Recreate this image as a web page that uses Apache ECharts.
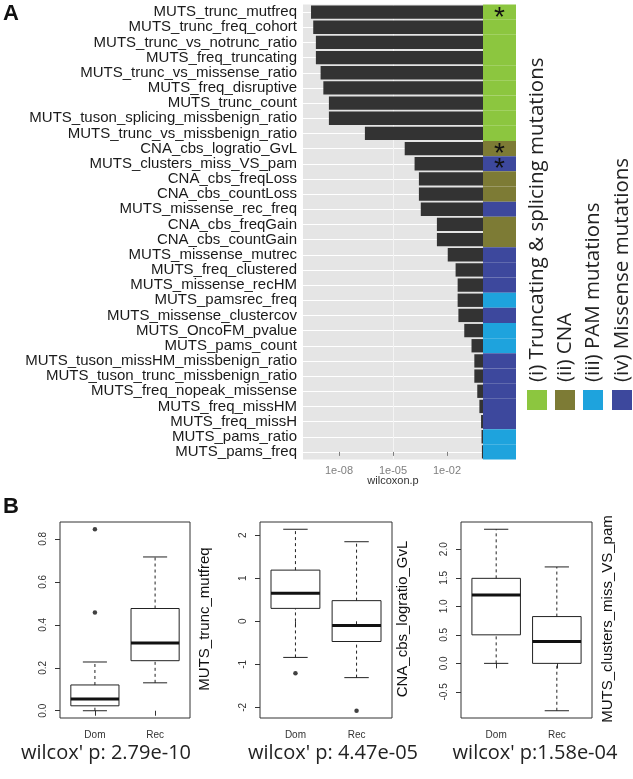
<!DOCTYPE html>
<html lang="en">
<head>
<meta charset="UTF-8" />
<title>wilcoxon feature ranking</title>
<style>
  body { margin: 0; background: #fff; }
  #chart { width: 633px; height: 779px; }
</style>
<script src="https://cdn.jsdelivr.net/npm/echarts@6/dist/echarts.min.js"></script>
</head>
<body>
<div id="chart"></div>
<script>
// ---- panel A data ----
const features = [
  'MUTS_trunc_mutfreq', 'MUTS_trunc_freq_cohort', 'MUTS_trunc_vs_notrunc_ratio', 'MUTS_freq_truncating',
  'MUTS_trunc_vs_missense_ratio', 'MUTS_freq_disruptive', 'MUTS_trunc_count', 'MUTS_tuson_splicing_missbenign_ratio',
  'MUTS_trunc_vs_missbenign_ratio', 'CNA_cbs_logratio_GvL', 'MUTS_clusters_miss_VS_pam', 'CNA_cbs_freqLoss',
  'CNA_cbs_countLoss', 'MUTS_missense_rec_freq', 'CNA_cbs_freqGain', 'CNA_cbs_countGain', 'MUTS_missense_mutrec',
  'MUTS_freq_clustered', 'MUTS_missense_recHM', 'MUTS_pamsrec_freq', 'MUTS_missense_clustercov', 'MUTS_OncoFM_pvalue',
  'MUTS_pams_count', 'MUTS_tuson_missHM_missbenign_ratio', 'MUTS_tuson_trunc_missbenign_ratio',
  'MUTS_freq_nopeak_missense', 'MUTS_freq_missHM', 'MUTS_freq_missH', 'MUTS_pams_ratio', 'MUTS_pams_freq'
];
const pValues = [
  2.79e-10, 3.7e-10, 5.2e-10, 5.2e-10, 9.5e-10, 1.35e-9, 2.75e-9, 2.75e-9, 2.75e-7, 4.47e-5,
  1.58e-4, 2.75e-4, 2.75e-4, 3.5e-4, 2.75e-3, 2.75e-3, 0.011, 0.030, 0.039, 0.039,
  0.043, 0.091, 0.23, 0.33, 0.33, 0.48, 0.63, 0.78, 0.83, 0.87
];
const featureGroup = [
  'i', 'i', 'i', 'i', 'i', 'i', 'i', 'i', 'i', 'ii',
  'iv', 'ii', 'ii', 'iv', 'ii', 'ii', 'iv', 'iv', 'iv', 'iii',
  'iv', 'iii', 'iii', 'iv', 'iv', 'iv', 'iv', 'iv', 'iii', 'iii'
];
const starredFeatures = ['MUTS_trunc_mutfreq', 'CNA_cbs_logratio_GvL', 'MUTS_clusters_miss_VS_pam'];
const groupKeys = ['i', 'ii', 'iii', 'iv'];
const groupNames = ['(i) Truncating & splicing mutations', '(ii) CNA', '(iii) PAM mutations', '(iv) Missense mutations'];
const groupColors = { i: '#8cc63f', ii: '#7d7b35', iii: '#1ea3dd', iv: '#3d489d' };
const pTicks = [-8, -5, -2]; // log10(p)

// ---- panel B data ----
const boxCategories = ['Dom', 'Rec'];
const boxFeatures = ['MUTS_trunc_mutfreq', 'CNA_cbs_logratio_GvL', 'MUTS_clusters_miss_VS_pam'];
// [lower whisker, Q1, median, Q3, upper whisker]
const statsTrunc = [[0.0, 0.023, 0.055, 0.12, 0.227], [0.13, 0.233, 0.315, 0.476, 0.716]];
const statsCna = [[-0.84, 0.30, 0.65, 1.19, 2.14], [-1.31, -0.47, -0.10, 0.48, 1.85]];
const statsClusters = [[0.0, 0.50, 1.20, 1.49, 2.35], [-0.83, 0.0, 0.385, 0.82, 1.69]];
const outliersTrunc = [[1, 0.457], [1, 0.845]];
const outliersCna = [[1, -1.21], [2, -2.08]];
const outliersClusters = [];
const ticksTrunc = [0, 0.2, 0.4, 0.6, 0.8];
const ticksCna = [-2, -1, 0, 1, 2];
const ticksClusters = [-0.5, 0, 0.5, 1, 1.5, 2];
const wilcoxLabels = ["wilcox' p: 2.79e-10", "wilcox' p: 4.47e-05", "wilcox' p:1.58e-04"];

const HELV = '"Liberation Sans", Arial, sans-serif';
const HUMAN = '"Open Sans", "DejaVu Sans", sans-serif';

const chart = echarts.init(document.getElementById('chart'));

const panels = [
  { stats: statsTrunc, outliers: outliersTrunc, ticks: ticksTrunc, digits: 1, left: 60, width: 130, nameX: 205, footX: 106 },
  { stats: statsCna, outliers: outliersCna, ticks: ticksCna, digits: 0, left: 260, width: 132, nameX: 403, footX: 333 },
  { stats: statsClusters, outliers: outliersClusters, ticks: ticksClusters, digits: 1, left: 461, width: 131, nameX: 608, footX: 535 }
];

function boxItem(params, api) {
  const x = api.value(0);
  const half = api.size([0.8, 0])[0] / 2;
  const staple = half / 2;
  const cx = api.coord([x, 0])[0];
  const y = (i) => api.coord([x, api.value(i)])[1];
  const yLo = y(1), yQ1 = y(2), yMed = y(3), yQ3 = y(4), yHi = y(5);
  const solid = { stroke: '#222', lineWidth: 1 };
  const dashed = { stroke: '#222', lineWidth: 1, lineDash: [3, 3] };
  return {
    type: 'group',
    children: [
      { type: 'line', shape: { x1: cx, y1: yLo, x2: cx, y2: yQ1 }, style: dashed },
      { type: 'line', shape: { x1: cx, y1: yQ3, x2: cx, y2: yHi }, style: dashed },
      { type: 'line', shape: { x1: cx - staple, y1: yLo, x2: cx + staple, y2: yLo }, style: solid },
      { type: 'line', shape: { x1: cx - staple, y1: yHi, x2: cx + staple, y2: yHi }, style: solid },
      { type: 'rect', shape: { x: cx - half, y: yQ3, width: half * 2, height: yQ1 - yQ3 }, style: { stroke: '#222', lineWidth: 1, fill: 'none' } },
      { type: 'line', shape: { x1: cx - half, y1: yMed, x2: cx + half, y2: yMed }, style: { stroke: '#111', lineWidth: 3 } }
    ]
  };
}

const grid = [
  { left: 303, top: 4.5, width: 180, height: 455, show: true, backgroundColor: '#e5e5e5', borderWidth: 0 },
  { left: 483, top: 4.5, width: 33, height: 455 }
];
const xAxis = [
  {
    gridIndex: 0, type: 'value', min: -10, max: 0, interval: 0.5,
    axisLine: { show: false },
    axisTick: { customValues: pTicks, length: 4, lineStyle: { color: '#7f7f7f' } },
    axisLabel: {
      customValues: pTicks, margin: 6, fontSize: 11, color: '#7f7f7f', fontFamily: HELV,
      formatter: (v) => '1e-' + String(-v).padStart(2, '0')
    },
    splitLine: {
      show: true,
      lineStyle: { width: 1, color: ['rgba(0,0,0,0)', '#f4f4f4', 'rgba(0,0,0,0)', 'rgba(0,0,0,0)', '#ffffff', 'rgba(0,0,0,0)'] }
    },
    name: 'wilcoxon.p', nameLocation: 'middle', nameGap: 16, nameMoveOverlap: false,
    nameTextStyle: { fontSize: 11, color: '#333', fontFamily: HELV }
  },
  { gridIndex: 1, type: 'value', min: 0, max: 1, show: false }
];
const yAxis = [
  {
    gridIndex: 0, type: 'category', data: features, inverse: true,
    axisLine: { show: false },
    axisTick: { alignWithLabel: true, length: 4, interval: 0, lineStyle: { color: '#555' } },
    axisLabel: { interval: 0, fontSize: 15, color: '#1a1a1a', margin: 6, fontFamily: HELV },
    splitLine: { show: false }
  },
  {
    gridIndex: 0, type: 'value', min: -0.5, max: features.length - 0.5, interval: 0.5,
    axisLine: { show: false }, axisTick: { show: false }, axisLabel: { show: false },
    splitLine: { show: true, lineStyle: { width: 1, color: ['rgba(0,0,0,0)', '#ffffff'] } }
  },
  { gridIndex: 1, type: 'category', data: features, inverse: true, show: false }
];

const series = [
  {
    type: 'bar', name: 'wilcoxon.p', xAxisIndex: 0, yAxisIndex: 0,
    barCategoryGap: '12%',
    itemStyle: { color: '#333333' },
    data: pValues.map((p) => Math.log10(p))
  },
  {
    type: 'bar', name: 'group', xAxisIndex: 1, yAxisIndex: 2,
    barCategoryGap: 0,
    data: features.map((f, i) => ({
      value: 1,
      itemStyle: { color: groupColors[featureGroup[i]] },
      label: {
        show: starredFeatures.includes(f), formatter: '*', position: 'inside',
        fontSize: 28, color: '#111', fontFamily: HELV, offset: [0, 6]
      }
    }))
  }
];

const graphic = [
  { type: 'text', x: 3, y: 3, style: { text: 'A', font: 'bold 22px ' + HELV, fill: '#111' } },
  { type: 'text', x: 3, y: 496, style: { text: 'B', font: 'bold 22px ' + HELV, fill: '#111' } }
];

// legend for panel A (rotated labels, keys below)
const legendX = [537, 565, 593, 622];
groupKeys.forEach((k, i) => {
  graphic.push({ type: 'rect', shape: { x: legendX[i] - 10, y: 390, width: 20, height: 20 }, style: { fill: groupColors[k] } });
  graphic.push({
    type: 'text', x: legendX[i], y: 382, rotation: Math.PI / 2,
    style: { text: groupNames[i], font: '20.5px ' + HUMAN, fill: '#222', textAlign: 'left', textVerticalAlign: 'middle', align: 'left', verticalAlign: 'middle' }
  });
});

panels.forEach((p, k) => {
  const gi = grid.length;
  const vals = p.stats.flat().concat(p.outliers.map((o) => o[1]));
  const lo = Math.min(...vals), hi = Math.max(...vals), pad = (hi - lo) * 0.04;
  grid.push({ left: p.left, top: 522, width: p.width, height: 196, show: true, borderColor: '#333', borderWidth: 1, backgroundColor: 'transparent' });
  xAxis.push({
    gridIndex: gi, type: 'value', min: 0.42, max: 2.58,
    axisLine: { show: false }, splitLine: { show: false },
    axisTick: { customValues: [1, 2], length: 5, lineStyle: { color: '#333' } },
    axisLabel: { customValues: [1, 2], formatter: (v) => boxCategories[v - 1], fontSize: 10, color: '#333', margin: 12, fontFamily: HELV }
  });
  yAxis.push({
    gridIndex: gi, type: 'value', min: lo - pad, max: hi + pad,
    axisLine: { show: false }, splitLine: { show: false },
    axisTick: { customValues: p.ticks, length: 5, lineStyle: { color: '#333' } },
    axisLabel: { customValues: p.ticks, rotate: 90, formatter: (v) => v.toFixed(p.digits), fontSize: 10, color: '#333', margin: 12, fontFamily: HELV }
  });
  series.push({
    type: 'custom', name: boxFeatures[k], xAxisIndex: gi, yAxisIndex: gi + 1,
    renderItem: boxItem,
    encode: { x: 0, y: [1, 2, 3, 4, 5] },
    data: p.stats.map((s, i) => [i + 1].concat(s))
  });
  series.push({
    type: 'scatter', xAxisIndex: gi, yAxisIndex: gi + 1,
    symbolSize: 4.5, itemStyle: { color: '#111' },
    data: p.outliers
  });
  graphic.push({
    type: 'text', x: p.nameX, y: 619, rotation: Math.PI / 2,
    style: { text: boxFeatures[k], font: '15px ' + HELV, fill: '#111', textAlign: 'center', textVerticalAlign: 'middle', align: 'center', verticalAlign: 'middle' }
  });
  graphic.push({
    type: 'text', x: p.footX, y: 753,
    style: { text: wilcoxLabels[k], font: '20px ' + HUMAN, fill: '#222', textAlign: 'center', textVerticalAlign: 'middle', align: 'center', verticalAlign: 'middle' }
  });
});

chart.setOption({
  animation: false,
  grid: grid,
  xAxis: xAxis,
  yAxis: yAxis,
  series: series,
  graphic: graphic
});
</script>
</body>
</html>
